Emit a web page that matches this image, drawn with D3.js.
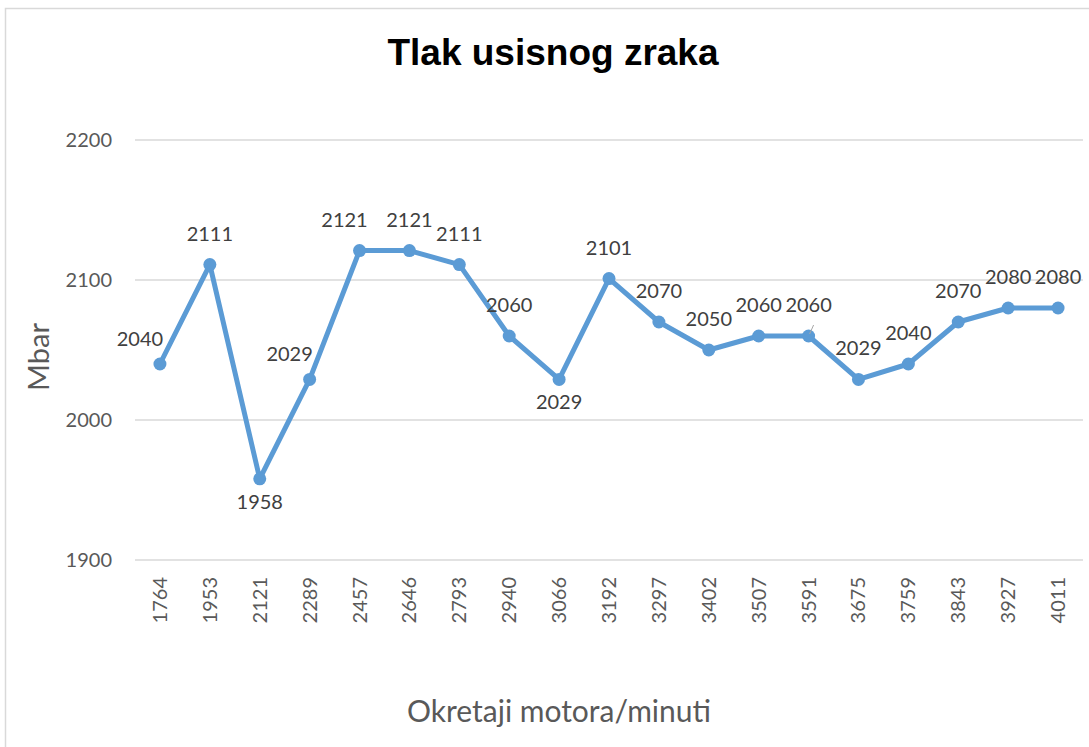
<!DOCTYPE html>
<html>
<head>
<meta charset="utf-8">
<script src="https://cdn.jsdelivr.net/npm/d3@7"></script>
<style>
body { margin: 0; background: #fff; }
svg { display: block; }
.axis text { font-family: Lato, "Liberation Sans", sans-serif; font-size: 20px; fill: #595959; }
.lbl { font-family: Lato, "Liberation Sans", sans-serif; font-size: 20px; fill: #404040; }
</style>
</head>
<body>
<svg width="1089" height="747"></svg>
<script>
// data
var rpm = ["1764","1953","2121","2289","2457","2646","2793","2940","3066","3192","3297","3402","3507","3591","3675","3759","3843","3927","4011"];
var pressure = [2040,2111,1958,2029,2121,2121,2111,2060,2029,2101,2070,2050,2060,2060,2029,2040,2070,2080,2080];
// where excel put each data label: a = above, al = above nudged left, b = below, l = left of point
var labelSide = ["l","a","b","l","al","a","a","a","b","a","a","a","a","a","a","a","a","a","a"];
var yTicks = [1900, 2000, 2100, 2200];

var svg = d3.select("svg"),
margin = {top: 140, right: 6, bottom: 187, left: 135},
width = +svg.attr("width") - margin.left - margin.right,
height = +svg.attr("height") - margin.top - margin.bottom;

// chart frame
svg.append("rect")
  .attr("x", 5.5).attr("y", 8.5)
  .attr("width", 1100).attr("height", 760)
  .attr("fill", "#fff")
  .attr("stroke", "#d9d9d9")
  .attr("stroke-width", 1.5);

var x = d3.scaleBand().domain(rpm).range([0, width]),
y = d3.scaleLinear().domain([1900, 2200]).range([height, 0]);

var g = svg.append("g")
  .attr("transform", "translate(" + margin.left + "," + margin.top + ")");

// gridlines
g.selectAll(".grid")
  .data(yTicks)
  .enter().append("line")
  .attr("class", "grid")
  .attr("x1", 0).attr("x2", width)
  .attr("y1", function(d) { return y(d); })
  .attr("y2", function(d) { return y(d); })
  .attr("stroke", "#d9d9d9")
  .attr("stroke-width", 1.5);

// Y axis
g.append("g")
  .attr("class", "axis")
  .call(d3.axisLeft(y).tickValues(yTicks).tickSize(0).tickPadding(23).tickFormat(d3.format("d")))
  .call(function(a) { a.select(".domain").remove(); });

// X axis
g.append("g")
  .attr("class", "axis")
  .attr("transform", "translate(0," + height + ")")
  .call(d3.axisBottom(x).tickSize(0))
  .call(function(a) { a.select(".domain").remove(); })
  .selectAll("text")
    .style("text-anchor", "end")
    .attr("dx", "-17px")
    .attr("dy", "0.35em")
    .attr("y", 0)
    .attr("transform", "rotate(-90)");

// line
var line = d3.line()
  .x(function(d, i) { return x(rpm[i]) + x.bandwidth() / 2; })
  .y(function(d) { return y(d); });

g.append("path")
  .datum(pressure)
  .attr("fill", "none")
  .attr("stroke", "#5b9bd5")
  .attr("stroke-width", 5)
  .attr("stroke-linejoin", "round")
  .attr("d", line);

// markers
g.selectAll(".dot")
  .data(pressure)
  .enter().append("circle")
  .attr("class", "dot")
  .attr("cx", function(d, i) { return x(rpm[i]) + x.bandwidth() / 2; })
  .attr("cy", function(d) { return y(d); })
  .attr("r", 6.5)
  .attr("fill", "#5b9bd5");

// leader line for the crowded label at 3591
var li = rpm.indexOf("3591");
g.append("line")
  .attr("x1", x(rpm[li]) + x.bandwidth() / 2 + 1)
  .attr("y1", y(pressure[li]) - 2)
  .attr("x2", x(rpm[li]) + x.bandwidth() / 2 + 5)
  .attr("y2", y(pressure[li]) - 11)
  .attr("stroke", "#a6a6a6")
  .attr("stroke-width", 1);

// data labels
g.selectAll(".lbl")
  .data(pressure)
  .enter().append("text")
  .attr("class", "lbl")
  .attr("text-anchor", "middle")
  .attr("x", function(d, i) {
    var cx = x(rpm[i]) + x.bandwidth() / 2;
    if (labelSide[i] === "l") return cx - 20;
    if (labelSide[i] === "al") return cx - 15;
    return cx;
  })
  .attr("y", function(d, i) {
    var cy = y(d);
    if (labelSide[i] === "b") return cy + 30;
    if (labelSide[i] === "l") return cy - 18;
    return cy - 24;
  })
  .text(function(d) { return d; });

// titles
svg.append("text")
  .attr("x", 553).attr("y", 65)
  .attr("text-anchor", "middle")
  .style("font-family", "'Liberation Sans', Arial, sans-serif")
  .style("font-weight", "bold")
  .style("font-size", "37px")
  .style("fill", "#000")
  .text("Tlak usisnog zraka");

svg.append("text")
  .attr("transform", "translate(49," + 357 + ") rotate(-90)")
  .attr("text-anchor", "middle")
  .style("font-family", "Lato, 'Liberation Sans', sans-serif")
  .style("font-size", "29px")
  .style("fill", "#595959")
  .text("Mbar");

svg.append("text")
  .attr("x", 559).attr("y", 722)
  .attr("text-anchor", "middle")
  .style("font-family", "Lato, 'Liberation Sans', sans-serif")
  .style("font-size", "30px")
  .style("fill", "#595959")
  .text("Okretaji motora/minuti");
</script>
</body>
</html>
